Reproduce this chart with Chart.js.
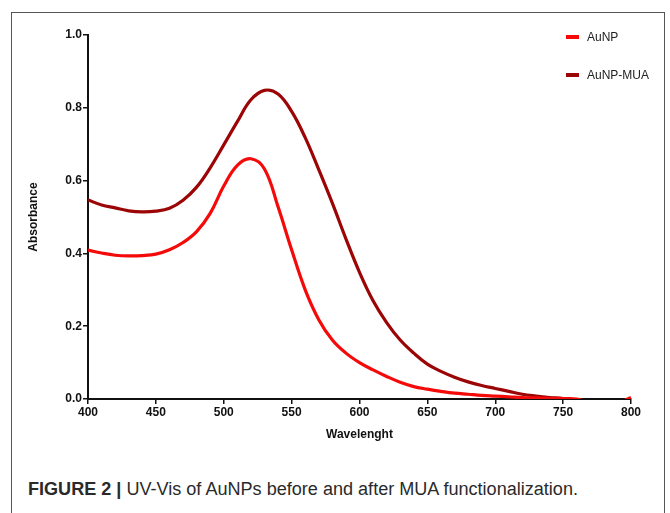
<!DOCTYPE html>
<html>
<head>
<meta charset="utf-8">
<script src="https://cdn.jsdelivr.net/npm/chart.js@4.4.1/dist/chart.umd.min.js"></script>
<style>
  html, body { margin: 0; padding: 0; background: #fff; }
  body { width: 670px; height: 513px; position: relative; overflow: hidden; font-family: 'Liberation Sans', Arial, sans-serif; }
  .frame { position: absolute; left: 11px; top: 12px; width: 654px; height: 520px; border: 1.5px solid #555; box-sizing: border-box; }
  .plot { position: absolute; left: 12px; top: 12px; width: 652px; height: 440px; }
  .legend { position: absolute; left: 566px; top: 30px; font-size: 12px; color: #222; }
  .legend-item { height: 38px; display: flex; align-items: flex-start; }
  .legend-swatch { width: 13px; height: 4px; margin-top: 5px; margin-right: 8px; }
  .caption { position: absolute; left: 28px; top: 479px; font-size: 18px; color: #2a2a2a; white-space: nowrap; transform-origin: left top; }
  .caption b { font-weight: bold; }
</style>
</head>
<body>
<div class="frame"></div>
<div class="plot"><canvas id="chart"></canvas></div>
<div class="legend" id="legend"></div>
<div class="caption" id="caption"><b>FIGURE 2 |</b> UV-Vis of AuNPs before and after MUA functionalization.</div>

<script>
// ── data (nm, absorbance) ──
const wavelengths = [400, 410, 420, 430, 440, 450, 460, 470, 480, 490,
                     500, 510, 520, 530, 540, 550, 560, 570, 580, 590,
                     600, 610, 620, 630, 640, 650, 660, 670, 680, 690,
                     700, 710, 720, 730, 740, 750, 760, 770, 780, 790, 800];

const auNP = [0.409, 0.401, 0.395, 0.393, 0.394, 0.398, 0.410, 0.430, 0.460, 0.510,
              0.585, 0.642, 0.660, 0.632, 0.528, 0.410, 0.300, 0.218, 0.162, 0.126,
              0.100, 0.080, 0.062, 0.046, 0.034, 0.027, 0.021, 0.016, 0.013, 0.010,
              0.008, 0.006, 0.004, 0.003, 0.002, 0.001, 0.000, -0.01, -0.01, -0.01, 0.004];

const auNP_MUA = [0.547, 0.533, 0.525, 0.517, 0.514, 0.516, 0.524, 0.546, 0.582, 0.635,
                  0.698, 0.762, 0.822, 0.848, 0.838, 0.790, 0.718, 0.630, 0.538, 0.440,
                  0.348, 0.270, 0.210, 0.162, 0.126, 0.096, 0.076, 0.060, 0.047, 0.037,
                  0.029, 0.021, 0.013, 0.008, 0.004, 0.001, -0.01, -0.01, -0.01, -0.01, -0.01];

const seriesLabels = ['AuNP', 'AuNP-MUA'];
const seriesColors = ['#f50a0a', '#9c0505'];
const xTicks = [400, 450, 500, 550, 600, 650, 700, 750, 800];
const yTicks = [0.0, 0.2, 0.4, 0.6, 0.8, 1.0];

const toPoints = (vals) => vals.map((v, i) => ({ x: wavelengths[i], y: v }));

const tickFont = { family: "'Liberation Sans', Arial, sans-serif", size: 12, weight: 'bold' };

new Chart(document.getElementById('chart'), {
  type: 'line',
  data: {
    datasets: [auNP, auNP_MUA].map((vals, i) => ({
      label: seriesLabels[i],
      data: toPoints(vals),
      borderColor: seriesColors[i],
      backgroundColor: seriesColors[i],
      borderWidth: 3.2,
      pointRadius: 0,
      tension: 0.4
    }))
  },
  options: {
    responsive: true,
    maintainAspectRatio: false,
    animation: false,
    layout: { padding: { top: 23, right: 33, left: 0, bottom: 0 } },
    plugins: { legend: { display: false }, tooltip: { enabled: false } },
    scales: {
      x: {
        type: 'linear',
        min: xTicks[0],
        max: xTicks[xTicks.length - 1],
        afterBuildTicks: (s) => { s.ticks = xTicks.map(v => ({ value: v })); },
        afterFit: (s) => { s.height = 53; },
        border: { color: '#111', width: 2 },
        grid: { drawOnChartArea: false, color: '#111', tickLength: 5, lineWidth: 1.5 },
        ticks: { color: '#111', font: tickFont, padding: 1, maxRotation: 0 },
        title: { display: true, text: 'Wavelenght', color: '#111', font: tickFont, padding: { top: 0, bottom: 10 } }
      },
      y: {
        min: 0,
        max: 1,
        afterBuildTicks: (s) => { s.ticks = yTicks.map(v => ({ value: v })); },
        afterFit: (s) => { s.width = 76; },
        border: { color: '#111', width: 2 },
        grid: { drawOnChartArea: false, color: '#111', tickLength: 5, lineWidth: 1.5 },
        ticks: { color: '#111', font: tickFont, padding: 1, callback: (v) => Number(v).toFixed(1) },
        title: { display: true, text: 'Absorbance', color: '#111', font: tickFont, padding: { top: 14, bottom: 0 } }
      }
    }
  }
});

// html legend, same labels/colours as datasets
const legend = document.getElementById('legend');
seriesLabels.forEach((label, i) => {
  const item = document.createElement('div');
  item.className = 'legend-item';
  item.innerHTML = '<span class="legend-swatch" style="background:' + seriesColors[i] + '"></span>' + label;
  legend.appendChild(item);
});

// squeeze caption to the width it has in the figure
const cap = document.getElementById('caption');
cap.style.transform = 'scaleX(' + (550 / cap.offsetWidth) + ')';
</script>
</body>
</html>
